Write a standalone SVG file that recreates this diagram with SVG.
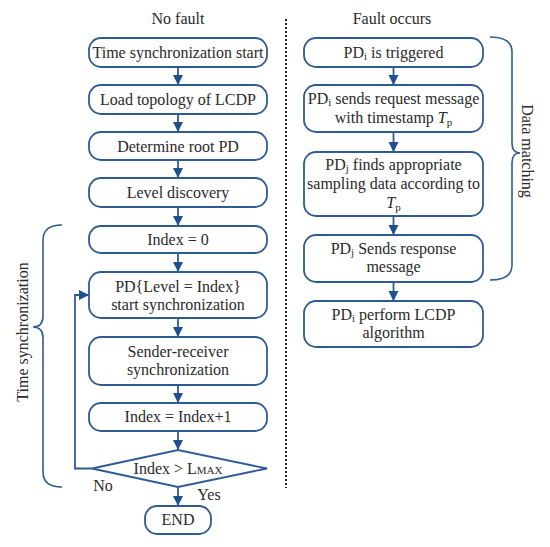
<svg xmlns="http://www.w3.org/2000/svg" width="550" height="547" viewBox="0 0 550 547">
<defs>
<style>
.box{fill:#fff;stroke:#2f5b93;stroke-width:1.8}
.t{font-family:"Liberation Serif","Times New Roman",serif;font-size:16px;fill:#2a2a2a;text-anchor:middle}
.sub{font-size:11px}
.con{fill:none;stroke:#2f5b93;stroke-width:1.8}
.brace{fill:none;stroke:#2f5b93;stroke-width:1.6}
</style>
<marker id="ah" markerUnits="userSpaceOnUse" markerWidth="12" markerHeight="12" refX="10" refY="5" orient="auto">
<path d="M0,0 L10,5 L0,10 z" fill="#1f4f8f"/>
</marker>
</defs>
<rect width="550" height="547" fill="#fff"/>

<text class="t" x="178" y="24">No fault</text>
<text class="t" x="392" y="24">Fault occurs</text>
<line x1="286" y1="19" x2="286" y2="488" stroke="#222" stroke-width="2" stroke-dasharray="2 2"/>

<g id="connectors">
<line class="con" x1="178" y1="67" x2="178" y2="85" marker-end="url(#ah)"/>
<line class="con" x1="178" y1="114" x2="178" y2="132" marker-end="url(#ah)"/>
<line class="con" x1="178" y1="160" x2="178" y2="178" marker-end="url(#ah)"/>
<line class="con" x1="178" y1="207" x2="178" y2="226" marker-end="url(#ah)"/>
<line class="con" x1="178" y1="253" x2="178" y2="272" marker-end="url(#ah)"/>
<line class="con" x1="178" y1="318" x2="178" y2="337" marker-end="url(#ah)"/>
<line class="con" x1="178" y1="385" x2="178" y2="403" marker-end="url(#ah)"/>
<line class="con" x1="178" y1="431" x2="178" y2="450" marker-end="url(#ah)"/>
<line class="con" x1="178" y1="487" x2="178" y2="506" marker-end="url(#ah)"/>
<path class="con" d="M92,468.5 H75 V295 H89" marker-end="url(#ah)"/>
<line class="con" x1="393.5" y1="67" x2="393.5" y2="85" marker-end="url(#ah)"/>
<line class="con" x1="393.5" y1="132" x2="393.5" y2="152" marker-end="url(#ah)"/>
<line class="con" x1="393.5" y1="216" x2="393.5" y2="235" marker-end="url(#ah)"/>
<line class="con" x1="393.5" y1="282" x2="393.5" y2="301" marker-end="url(#ah)"/>
</g>

<g id="n1"><rect class="box" x="89" y="38" width="178" height="29" rx="12"/><text class="t" x="178" y="58">Time synchronization start</text></g>
<g id="n2"><rect class="box" x="89" y="85" width="178" height="29" rx="12"/><text class="t" x="178" y="105">Load topology of LCDP</text></g>
<g id="n3"><rect class="box" x="89" y="132" width="178" height="28" rx="12"/><text class="t" x="178" y="151.5">Determine root PD</text></g>
<g id="n4"><rect class="box" x="89" y="178" width="178" height="29" rx="12"/><text class="t" x="178" y="198">Level discovery</text></g>
<g id="n5"><rect class="box" x="89" y="226" width="178" height="27" rx="12"/><text class="t" x="178" y="245">Index = 0</text></g>
<g id="n6"><rect class="box" x="89" y="272" width="178" height="46" rx="12"/><text class="t" x="178" y="292">PD{Level = Index}</text><text class="t" x="178" y="310">start synchronization</text></g>
<g id="n7"><rect class="box" x="89" y="337" width="178" height="48" rx="12"/><text class="t" x="178" y="357">Sender-receiver</text><text class="t" x="178" y="375">synchronization</text></g>
<g id="n8"><rect class="box" x="89" y="403" width="178" height="28" rx="12"/><text class="t" x="178" y="422">Index = Index+1</text></g>
<g id="n9"><polygon class="box" points="92,468.5 178,450 267,468.5 178,487"/><text class="t" x="178" y="474">Index &gt; L<tspan class="sub">MAX</tspan></text></g>
<g id="n10"><rect class="box" x="145" y="506" width="66" height="28" rx="12"/><text class="t" x="178" y="525">END</text></g>
<text class="t" x="103" y="491">No</text>
<text class="t" x="209" y="500">Yes</text>

<g id="r1"><rect class="box" x="304" y="38" width="179" height="29" rx="12"/><text class="t" x="393.5" y="58">PD<tspan class="sub" dy="2">i</tspan><tspan dy="-2"> is triggered</tspan></text></g>
<g id="r2"><rect class="box" x="304" y="85" width="179" height="47" rx="12"/><text class="t" x="393.5" y="104">PD<tspan class="sub" dy="2">i</tspan><tspan dy="-2"> sends request message</tspan></text><text class="t" x="393.5" y="123">with timestamp <tspan font-style="italic">T</tspan><tspan class="sub" dy="3">p</tspan></text></g>
<g id="r3"><rect class="box" x="304" y="152" width="179" height="64" rx="12"/><text class="t" x="393.5" y="170">PD<tspan class="sub" dy="2">j</tspan><tspan dy="-2"> finds appropriate</tspan></text><text class="t" x="393.5" y="189">sampling data according to</text><text class="t" x="393.5" y="208"><tspan font-style="italic">T</tspan><tspan class="sub" dy="3">p</tspan></text></g>
<g id="r4"><rect class="box" x="304" y="235" width="179" height="47" rx="12"/><text class="t" x="393.5" y="254">PD<tspan class="sub" dy="2">j</tspan><tspan dy="-2"> Sends response</tspan></text><text class="t" x="393.5" y="272">message</text></g>
<g id="r5"><rect class="box" x="304" y="301" width="179" height="46" rx="12"/><text class="t" x="393.5" y="320">PD<tspan class="sub" dy="2">i</tspan><tspan dy="-2"> perform LCDP</tspan></text><text class="t" x="393.5" y="338">algorithm</text></g>

<g id="brace-time">
<path class="brace" d="M62,225 Q43,225 43,240 L43,316 Q43,327 33,327 Q43,327 43,338 L43,472 Q43,487 62,487"/>
<text class="t" transform="translate(28,332) rotate(-90)">Time synchronization</text>
</g>
<g id="brace-data">
<path class="brace" d="M490,37 Q512,37 512,52 L512,143 Q512,153 520,153 Q512,153 512,163 L512,265 Q512,280 490,280"/>
<text class="t" transform="translate(522,151) rotate(90)">Data matching</text>
</g>
</svg>
